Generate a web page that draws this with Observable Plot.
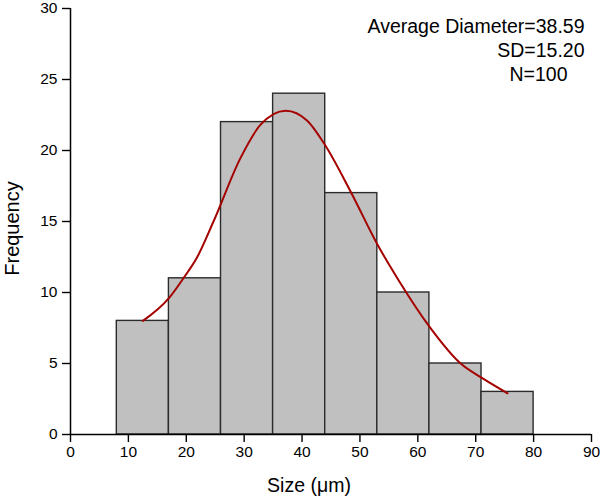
<!DOCTYPE html>
<html>
<head>
<meta charset="utf-8">
<script src="https://cdn.jsdelivr.net/npm/d3@7"></script>
<script src="https://cdn.jsdelivr.net/npm/@observablehq/plot@0.6"></script>
<style>
  html, body { margin: 0; padding: 0; background: #fff; }
  #chart svg { display: block; }
</style>
</head>
<body>
<div id="chart"></div>
<script>
// Histogram bins (left/right edges) and counts
const binLeft  = [8, 17, 26, 35, 44, 53, 62, 71];
const binRight = [17, 26, 35, 44, 53, 62, 71, 80];
const counts   = [8, 11, 22, 24, 17, 10, 5, 3];

// Fitted curve, points
const fitX = [12.5, 17, 19.5, 21.9, 24.7, 29.4, 32.8, 37.2, 40.9, 44.1, 48.4, 53.0, 56.7, 62.0, 67.4, 71.0, 75.5];
const fitY = [8.0, 9.6, 11.0, 12.5, 15.0, 19.5, 21.8, 22.8, 22.1, 20.3, 17.1, 13.4, 10.85, 7.6, 5.0, 4.0, 2.9];

// Tick values
const xTicks = [0, 10, 20, 30, 40, 50, 60, 70, 80, 90];
const yTicks = [0, 5, 10, 15, 20, 25, 30];

// Texts
const xLabel = "Size (μm)";
const yLabel = "Frequency";
const statLines = ["Average Diameter=38.59", "SD=15.20", "N=100"];

const bars = binLeft.map((l, i) => ({x1: l, x2: binRight[i], y: counts[i]}));
const fit = fitX.map((x, i) => ({x, y: fitY[i]}));

const font = "'Liberation Sans', Arial, Helvetica, sans-serif";

const chart = Plot.plot({
  width: 600,
  height: 497,
  marginLeft: 70,
  marginRight: 9,
  marginTop: 8,
  marginBottom: 63,
  style: {fontFamily: font, fontSize: "15.5px", background: "#fff", color: "#000"},
  x: {domain: [0, 90]},
  y: {domain: [0, 30]},
  marks: [
    Plot.rectY(bars, {x1: "x1", x2: "x2", y: "y", fill: "#c0c0c0", stroke: "#2b2b2b", strokeWidth: 1.4}),
    Plot.line(fit, {x: "x", y: "y", stroke: "#a50000", strokeWidth: 2, curve: "monotone-x"}),
    Plot.axisX({ticks: xTicks, tickSize: 8, tickPadding: 3, tickFormat: d => String(d), label: null, strokeWidth: 1.4, fontSize: 15.5}),
    Plot.axisY({ticks: yTicks, tickSize: 8, tickPadding: 5, tickFormat: d => String(d), label: null, strokeWidth: 1.4, fontSize: 15.5}),
    Plot.ruleY([0], {stroke: "#000", strokeWidth: 1.5}),
    Plot.ruleX([0], {stroke: "#000", strokeWidth: 1.5}),
    Plot.text([xLabel], {frameAnchor: "bottom", textAnchor: "middle", dx: -22, dy: 57, lineAnchor: "bottom", fontSize: 19.5, fill: "#000"}),
    Plot.text([yLabel], {frameAnchor: "left", textAnchor: "middle", rotate: -90, dx: -58, dy: 7, lineAnchor: "middle", fontSize: 20, fill: "#000"}),
    Plot.text([statLines[0]], {frameAnchor: "top-right", textAnchor: "end", lineAnchor: "bottom", dx: -7, dy: 24, fontSize: 19.5, fill: "#000"}),
    Plot.text([statLines[1]], {frameAnchor: "top-right", textAnchor: "end", lineAnchor: "bottom", dx: -7, dy: 48, fontSize: 19.5, fill: "#000"}),
    Plot.text([statLines[2]], {frameAnchor: "top-right", textAnchor: "end", lineAnchor: "bottom", dx: -24, dy: 72, fontSize: 19.5, fill: "#000"})
  ]
});
document.getElementById("chart").appendChild(chart);
</script>
</body>
</html>
